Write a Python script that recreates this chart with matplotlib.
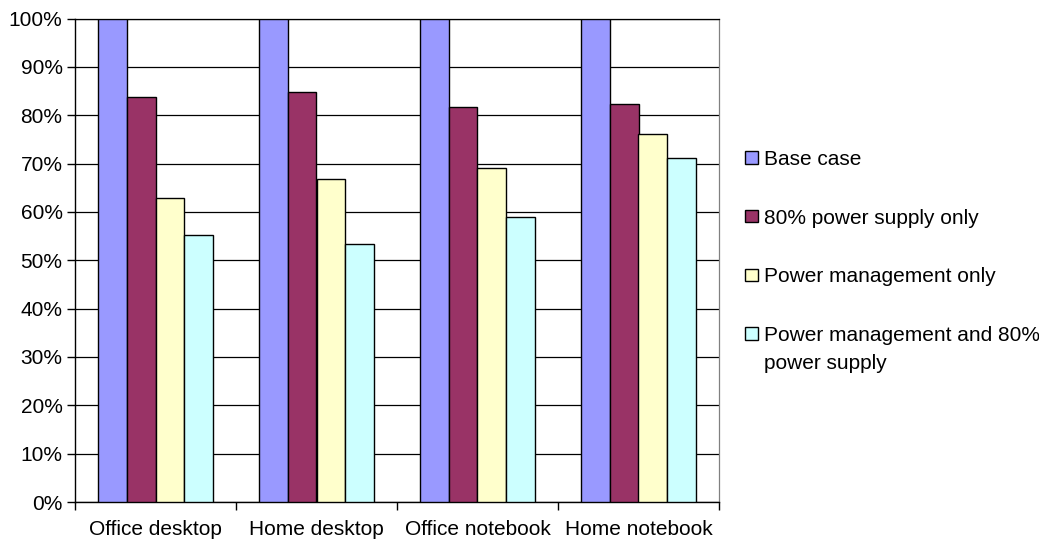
import numpy as np
import matplotlib.pyplot as plt
from matplotlib.patches import Patch
from matplotlib.ticker import FixedLocator, PercentFormatter

plt.rcParams['font.family'] = ['Liberation Sans', 'DejaVu Sans']

# Energy use relative to the base case, by computer type
categories = ['Office desktop', 'Home desktop', 'Office notebook', 'Home notebook']
base_case = [100, 100, 100, 100]
psu_only = [83.7, 84.7, 81.7, 82.4]
pm_only = [62.9, 66.9, 69.1, 76.1]
pm_and_psu = [55.2, 53.3, 58.9, 71.1]

series = [
    ('Base case', base_case, '#9999FF'),
    ('80% power supply only', psu_only, '#993366'),
    ('Power management only', pm_only, '#FFFFCC'),
    ('Power management and 80%', pm_and_psu, '#CCFFFF'),
]
# the last legend entry wraps onto a second line
wrap_text = 'power supply'

W, H = 1039, 542
fig = plt.figure(figsize=(W / 100, H / 100), dpi=100)
left, right, top, bottom = 75, 719, 18.5, 502
ax = fig.add_axes([left / W, 1 - bottom / H, (right - left) / W, (bottom - top) / H])

x = np.arange(len(categories))
w = 0.18
for i, (name, vals, color) in enumerate(series):
    ax.bar(x + (i - 1.5) * w, vals, w, color=color, edgecolor='black',
           linewidth=1.0, zorder=3, label=name)

ax.set_xlim(-0.5, len(categories) - 0.5)
ax.set_ylim(0, 100)
ax.set_yticks(np.arange(0, 101, 10))
ax.yaxis.set_major_formatter(PercentFormatter(decimals=0))
ax.yaxis.grid(True, color='black', linewidth=0.9, zorder=0)

ax.set_xticks(x)
ax.set_xticklabels(categories)
ax.xaxis.set_minor_locator(FixedLocator(np.arange(-0.5, len(categories), 1.0)))
ax.tick_params(axis='x', which='major', length=0, pad=13, labelsize=15)
ax.tick_params(axis='x', which='minor', length=6, width=1, color='black')
ax.tick_params(axis='y', length=6, width=1, labelsize=15, pad=3)

for side in ['left', 'bottom']:
    ax.spines[side].set_color('black')
    ax.spines[side].set_linewidth(1.0)
ax.spines['top'].set_color('black')
ax.spines['top'].set_linewidth(0.9)
ax.spines['right'].set_color('#808080')
ax.spines['right'].set_linewidth(0.9)

handles = [Patch(facecolor=c, edgecolor='black', linewidth=1.0) for _, _, c in series]
labels = [n for n, _, _ in series]
leg = fig.legend(handles, labels, loc='upper left', bbox_to_anchor=(745 / W, 1 - 150 / H),
                 frameon=False, fontsize=15, handlelength=0.6, handleheight=0.55,
                 handletextpad=0.3, labelspacing=1.9, borderaxespad=0, borderpad=0)

# put the wrapped part under the last legend label
fig.canvas.draw()
bb = leg.get_texts()[-1].get_window_extent().transformed(fig.transFigure.inverted())
fig.text(bb.x0, bb.y0 - 28 / H, wrap_text, fontsize=15, va='bottom', ha='left')

fig.savefig('out.png', dpi=100)
